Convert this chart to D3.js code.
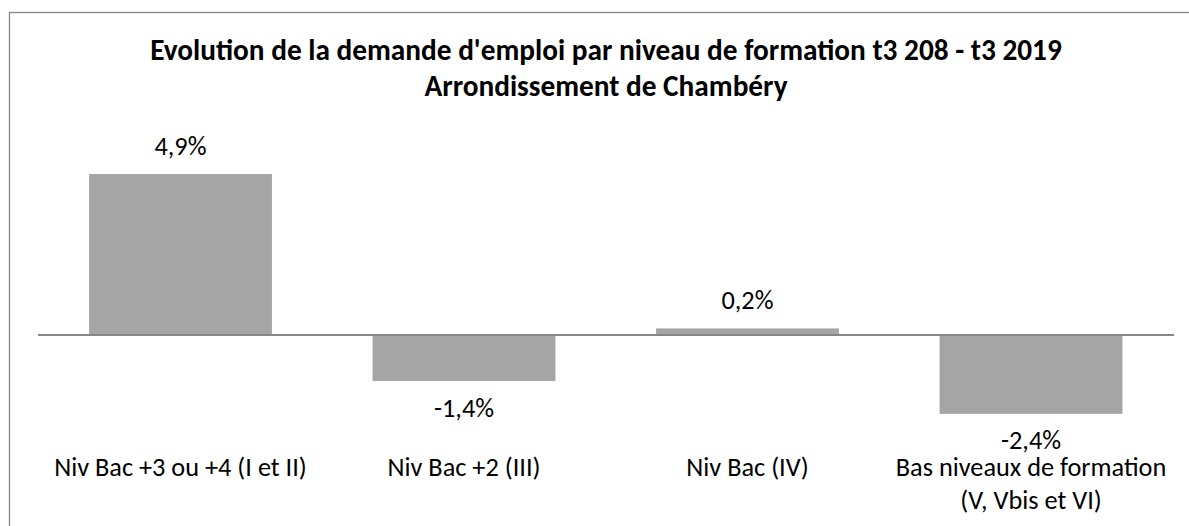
<!DOCTYPE html>
<html>
<head>
<meta charset="utf-8">
<script src="https://cdn.jsdelivr.net/npm/d3@7"></script>
<style>
  html, body { margin: 0; padding: 0; background: #fff; }
  svg { display: block; }
  text { font-family: Carlito, Calibri, Lato, "Liberation Sans", sans-serif; fill: #000; }
</style>
</head>
<body>
<svg id="chart" width="1189" height="526"></svg>
<script>
// Évolution de la demande d'emploi par niveau de formation
const categories = [
  ["Niv Bac +3 ou +4 (I et II)"],
  ["Niv Bac +2 (III)"],
  ["Niv Bac (IV)"],
  ["Bas niveaux de formation", "(V, Vbis et VI)"]
];
const values = [4.9, -1.4, 0.2, -2.4];
const valueLabels = ["4,9%", "-1,4%", "0,2%", "-2,4%"];
const titleLines = [
  "Evolution de la demande d'emploi par niveau de formation t3 208 - t3 2019",
  "Arrondissement de Chambéry"
];

const svg = d3.select("#chart");

// outer chart frame
svg.append("rect")
  .attr("x", 9.5).attr("y", 12.5)
  .attr("width", 1200).attr("height", 540)
  .attr("fill", "#fff")
  .attr("stroke", "#888").attr("stroke-width", 1.3);

// title
svg.append("g").selectAll("text")
  .data(titleLines)
  .join("text")
  .attr("x", 606)
  .attr("y", (d, i) => 60 + i * 36)
  .attr("text-anchor", "middle")
  .attr("font-size", 29.3)
  .attr("font-weight", "bold")
  .text(d => d);

const x = d3.scaleBand()
  .domain(d3.range(categories.length))
  .range([38.75, 1172.75])
  .paddingInner(0.355)
  .paddingOuter(0.1775);

const y = d3.scaleLinear()
  .domain([-3, 5])
  .range([433.6, 170.7]);

// bars
svg.append("g").selectAll("rect")
  .data(values)
  .join("rect")
  .attr("x", (d, i) => x(i))
  .attr("width", x.bandwidth())
  .attr("y", d => y(Math.max(0, d)))
  .attr("height", d => Math.abs(y(d) - y(0)))
  .attr("fill", "#a5a5a5");

// zero axis line
svg.append("line")
  .attr("x1", 38).attr("x2", 1174)
  .attr("y1", y(0)).attr("y2", y(0))
  .attr("stroke", "#868686").attr("stroke-width", 2);

// value labels
svg.append("g").selectAll("text")
  .data(values)
  .join("text")
  .attr("x", (d, i) => x(i) + x.bandwidth() / 2)
  .attr("y", d => d >= 0 ? y(d) - 19 : y(d) + 35.5)
  .attr("text-anchor", "middle")
  .attr("font-size", 26.3)
  .text((d, i) => valueLabels[i]);

// category labels
const cat = svg.append("g").selectAll("text")
  .data(categories)
  .join("text")
  .attr("x", (d, i) => x(i) + x.bandwidth() / 2)
  .attr("y", 476)
  .attr("text-anchor", "middle")
  .attr("font-size", 26.3);
cat.selectAll("tspan")
  .data(d => d)
  .join("tspan")
  .attr("x", function () { return this.parentNode.getAttribute("x"); })
  .attr("dy", (d, i) => i === 0 ? 0 : 33)
  .text(d => d);
</script>
</body>
</html>
